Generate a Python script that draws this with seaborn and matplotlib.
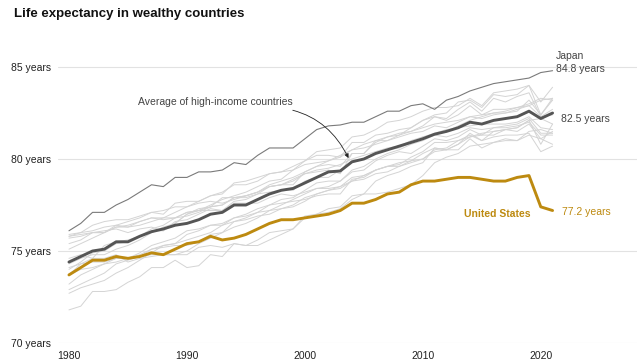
import numpy as np
import pandas as pd
import matplotlib.pyplot as plt
import seaborn as sns

years = list(range(1980, 2022))

# -------------------- data --------------------
united_states = [73.7, 74.1, 74.5, 74.5, 74.7, 74.6, 74.7, 74.9, 74.8, 75.1,
                 75.4, 75.5, 75.8, 75.6, 75.7, 75.9, 76.2, 76.5, 76.7, 76.7,
                 76.8, 76.9, 77.0, 77.2, 77.6, 77.6, 77.8, 78.1, 78.2, 78.6,
                 78.8, 78.8, 78.9, 79.0, 79.0, 78.9, 78.8, 78.8, 79.0, 79.1,
                 77.4, 77.2]
average = [74.4, 74.7, 75.0, 75.1, 75.5, 75.5, 75.8, 76.05, 76.2, 76.4,
           76.5, 76.7, 77.0, 77.1, 77.5, 77.5, 77.8, 78.1, 78.3, 78.4,
           78.7, 79.0, 79.3, 79.35, 79.85, 80.0, 80.3, 80.5, 80.7, 80.9,
           81.1, 81.35, 81.5, 81.7, 82.0, 81.9, 82.1, 82.2, 82.3, 82.6,
           82.2, 82.5]
japan = [76.1, 76.5, 77.1, 77.1, 77.5, 77.8, 78.2, 78.6, 78.5, 79.0,
         79.0, 79.3, 79.3, 79.4, 79.8, 79.7, 80.2, 80.6, 80.6, 80.6,
         81.1, 81.6, 81.8, 81.85, 82.0, 82.0, 82.3, 82.6, 82.6, 82.9,
         83.0, 82.7, 83.2, 83.4, 83.7, 83.9, 84.1, 84.2, 84.3, 84.4,
         84.7, 84.8]

others = {
    'Switzerland': [75.7, 75.8, 76.0, 76.0, 76.4, 76.6, 76.8, 77.1, 77.2, 77.4, 77.4, 77.7, 78.0, 78.2, 78.6, 78.6, 78.8, 79.2, 79.3, 79.6, 79.9, 80.4, 80.5, 80.6, 81.2, 81.3, 81.6, 82.0, 82.1, 82.3, 82.6, 82.8, 82.8, 82.9, 83.3, 82.9, 83.6, 83.7, 83.8, 84.0, 83.1, 83.9],
    'Spain': [75.4, 75.6, 76.0, 76.0, 76.3, 76.4, 76.6, 76.8, 76.7, 76.8, 76.9, 77.1, 77.4, 77.5, 77.9, 77.9, 78.1, 78.5, 78.6, 78.6, 79.3, 79.6, 79.7, 79.6, 80.3, 80.3, 81.0, 81.0, 81.3, 81.7, 82.1, 82.4, 82.5, 83.1, 83.2, 82.8, 83.5, 83.4, 83.5, 84.0, 82.4, 83.3],
    'Italy': [74.0, 74.4, 74.9, 75.0, 75.4, 75.5, 75.8, 76.2, 76.4, 76.8, 77.1, 77.2, 77.5, 77.8, 78.0, 78.2, 78.5, 78.8, 78.9, 79.4, 79.9, 80.2, 80.2, 80.1, 80.9, 80.9, 81.3, 81.4, 81.6, 81.7, 82.1, 82.3, 82.2, 82.7, 83.1, 82.6, 83.3, 83.1, 83.4, 83.6, 82.3, 82.7],
    'Australia': [74.6, 74.8, 74.6, 75.3, 75.5, 75.6, 75.8, 76.1, 76.1, 76.5, 77.0, 77.3, 77.4, 77.9, 77.9, 78.0, 78.2, 78.6, 78.8, 79.0, 79.3, 79.6, 79.9, 80.2, 80.5, 80.8, 81.0, 81.2, 81.4, 81.5, 81.7, 81.9, 82.0, 82.1, 82.3, 82.4, 82.5, 82.5, 82.7, 82.9, 83.2, 83.3],
    'Sweden': [75.8, 76.0, 76.4, 76.6, 76.7, 76.7, 76.9, 77.1, 77.0, 77.6, 77.7, 77.7, 78.0, 78.1, 78.7, 78.8, 79.0, 79.2, 79.3, 79.4, 79.7, 79.8, 79.9, 80.1, 80.5, 80.6, 80.8, 81.0, 81.2, 81.4, 81.5, 81.8, 81.7, 82.0, 82.3, 82.2, 82.4, 82.5, 82.6, 83.2, 82.4, 83.2],
    'Norway': [75.8, 75.9, 76.0, 76.1, 76.2, 76.0, 76.2, 76.3, 76.1, 76.6, 76.7, 77.0, 77.3, 77.2, 77.7, 77.8, 78.1, 78.2, 78.3, 78.3, 78.8, 79.0, 79.0, 79.4, 79.8, 80.0, 80.4, 80.5, 80.6, 80.9, 81.2, 81.3, 81.5, 81.8, 82.1, 82.3, 82.5, 82.6, 82.8, 83.0, 83.3, 83.2],
    'France': [74.3, 74.6, 74.8, 74.8, 75.1, 75.3, 75.6, 76.0, 76.3, 76.5, 77.0, 77.2, 77.4, 77.5, 77.9, 78.0, 78.2, 78.5, 78.6, 78.8, 79.2, 79.3, 79.4, 79.2, 80.3, 80.3, 80.9, 81.2, 81.3, 81.5, 81.8, 82.3, 82.1, 82.4, 82.9, 82.4, 82.7, 82.7, 82.8, 82.9, 82.3, 82.4],
    'Canada': [75.1, 75.4, 75.7, 76.0, 76.3, 76.3, 76.4, 76.6, 76.8, 77.1, 77.4, 77.6, 77.7, 77.6, 77.8, 78.0, 78.2, 78.5, 78.6, 78.9, 79.2, 79.4, 79.5, 79.7, 80.0, 80.2, 80.4, 80.6, 80.7, 81.0, 81.2, 81.4, 81.6, 81.7, 81.8, 81.9, 81.9, 81.9, 82.0, 82.3, 81.7, 81.6],
    'Netherlands': [75.9, 76.0, 76.1, 76.3, 76.4, 76.3, 76.6, 76.8, 76.8, 76.8, 77.1, 77.2, 77.2, 77.2, 77.6, 77.6, 77.6, 77.9, 78.1, 78.0, 78.2, 78.4, 78.5, 78.8, 79.4, 79.6, 80.0, 80.3, 80.5, 80.8, 81.0, 81.3, 81.2, 81.4, 81.7, 81.6, 81.7, 81.8, 81.9, 82.2, 81.4, 81.4],
    'Austria': [72.7, 73.0, 73.2, 73.4, 73.8, 74.1, 74.5, 74.9, 75.3, 75.4, 75.6, 75.8, 76.0, 76.4, 76.6, 76.8, 77.1, 77.5, 77.8, 77.9, 78.3, 78.7, 78.8, 78.8, 79.3, 79.4, 79.9, 80.2, 80.4, 80.3, 80.7, 81.1, 81.0, 81.2, 81.6, 81.3, 81.7, 81.7, 81.8, 82.0, 81.3, 81.3],
    'Belgium': [73.2, 73.7, 74.0, 74.3, 74.4, 74.6, 74.9, 75.3, 75.5, 75.7, 76.1, 76.2, 76.4, 76.5, 76.8, 77.0, 77.3, 77.5, 77.6, 77.7, 77.8, 78.0, 78.1, 78.1, 78.9, 79.0, 79.4, 79.6, 79.6, 79.9, 80.3, 80.6, 80.5, 80.8, 81.4, 81.0, 81.5, 81.6, 81.7, 82.1, 80.8, 81.9],
    'United Kingdom': [73.7, 74.0, 74.1, 74.3, 74.6, 74.6, 74.8, 75.1, 75.3, 75.4, 75.9, 76.1, 76.4, 76.4, 76.8, 76.9, 77.1, 77.2, 77.3, 77.5, 77.9, 78.1, 78.3, 78.4, 78.8, 79.1, 79.4, 79.6, 79.7, 80.1, 80.4, 80.9, 80.9, 81.0, 81.3, 81.0, 81.2, 81.3, 81.3, 81.4, 80.4, 80.7],
    'Germany': [72.9, 73.2, 73.5, 73.8, 74.3, 74.5, 74.7, 75.1, 75.2, 75.3, 75.3, 75.5, 75.9, 76.0, 76.3, 76.5, 76.8, 77.2, 77.5, 77.8, 78.1, 78.4, 78.4, 78.5, 79.0, 79.1, 79.4, 79.6, 79.8, 79.9, 80.0, 80.4, 80.5, 80.5, 81.1, 80.6, 80.9, 81.0, 81.0, 81.3, 81.1, 80.8],
    'Finland': [73.7, 74.3, 74.6, 74.6, 74.8, 74.4, 74.6, 74.7, 74.8, 74.8, 75.0, 75.4, 75.7, 76.0, 76.6, 76.7, 76.9, 77.0, 77.3, 77.4, 77.7, 78.1, 78.3, 78.5, 78.8, 78.9, 79.2, 79.3, 79.6, 79.8, 80.0, 80.5, 80.6, 81.0, 81.2, 81.4, 81.5, 81.6, 81.7, 82.1, 82.2, 81.9],
    'Denmark': [74.1, 74.3, 74.4, 74.4, 74.6, 74.6, 74.7, 74.8, 74.8, 74.8, 74.8, 75.2, 75.3, 75.2, 75.4, 75.3, 75.6, 76.0, 76.1, 76.2, 76.9, 77.0, 77.1, 77.3, 77.8, 78.1, 78.1, 78.2, 78.4, 78.6, 79.1, 79.8, 80.1, 80.3, 80.7, 80.8, 80.9, 81.1, 81.0, 81.5, 81.6, 81.4],
    'Portugal': [71.8, 72.0, 72.8, 72.8, 72.9, 73.3, 73.6, 74.1, 74.1, 74.5, 74.1, 74.2, 74.8, 74.7, 75.4, 75.3, 75.3, 75.6, 75.9, 76.2, 76.8, 77.0, 77.3, 77.4, 78.0, 78.1, 78.8, 79.1, 79.3, 79.6, 79.8, 80.6, 80.5, 80.8, 81.2, 81.3, 81.3, 81.6, 81.5, 81.9, 81.1, 81.5],
}

y_ticks = [70, 75, 80, 85]
y_labels = ['70 years', '75 years', '80 years', '85 years']
x_ticks = [1980, 1990, 2000, 2010, 2020]

gold = '#bd8a10'
dark = '#555555'

# long-form table for the gray countries
gray_df = pd.DataFrame([
    {'country': c, 'year': y, 'value': v}
    for c, vals in others.items() for y, v in zip(years, vals)
])

# -------------------- plot --------------------
sns.set_theme(style='white')
plt.rcParams['font.family'] = ['Liberation Sans', 'DejaVu Sans']

fig = plt.figure(figsize=(6.4, 3.64), dpi=100)
ax = fig.add_axes([0.0906, 0.0577, 0.9044, 0.834])

for y in y_ticks:
    ax.axhline(y, color='#e2e2e2', lw=0.8, zorder=0)

sns.lineplot(data=gray_df, x='year', y='value', units='country', estimator=None,
             color='#d4d4d4', lw=0.7, ax=ax)
sns.lineplot(x=years, y=japan, color='#7a7a7a', lw=0.8, ax=ax)
sns.lineplot(x=years, y=average, color=dark, lw=2.1, ax=ax)
sns.lineplot(x=years, y=united_states, color=gold, lw=2.1, ax=ax)

ax.set_xlim(1979.07, 2028.14)
ax.set_ylim(70, 86.5)
ax.set_yticks(y_ticks)
ax.set_yticklabels(y_labels)
ax.set_xticks(x_ticks)
ax.set_xlabel('')
ax.set_ylabel('')
ax.tick_params(axis='both', length=0, labelsize=7.5, colors='#222222')
ax.tick_params(axis='y', pad=5)
ax.tick_params(axis='x', pad=6)
for s in ax.spines.values():
    s.set_visible(False)

# labels
ax.text(2021.3, 85.6, 'Japan', fontsize=7.5, color='#444444', va='center')
ax.text(2021.3, 84.9, '84.8 years', fontsize=7.5, color='#444444', va='center')
ax.text(2021.7, 82.2, '82.5 years', fontsize=7.5, color='#444444', va='center')
ax.text(2021.8, 77.1, '77.2 years', fontsize=7.5, color=gold, va='center')
ax.text(2019.1, 77.0, 'United States', fontsize=7.5, color=gold,
        fontweight='bold', va='center', ha='right')
ax.annotate('Average of high-income countries', xy=(2003.7, 80.05),
            xytext=(1985.85, 83.1), fontsize=7.5, color='#444444', va='center',
            arrowprops=dict(arrowstyle='-|>', color='#222222', lw=0.6,
                            mutation_scale=6, shrinkA=0, shrinkB=0,
                            connectionstyle='arc3,rad=-0.3',
                            relpos=(0.85, 0.0)))

fig.text(0.022, 0.962, 'Life expectancy in wealthy countries', fontsize=9.5,
         fontweight='bold', color='#111111', va='center')

fig.savefig('out.png', dpi=100)
